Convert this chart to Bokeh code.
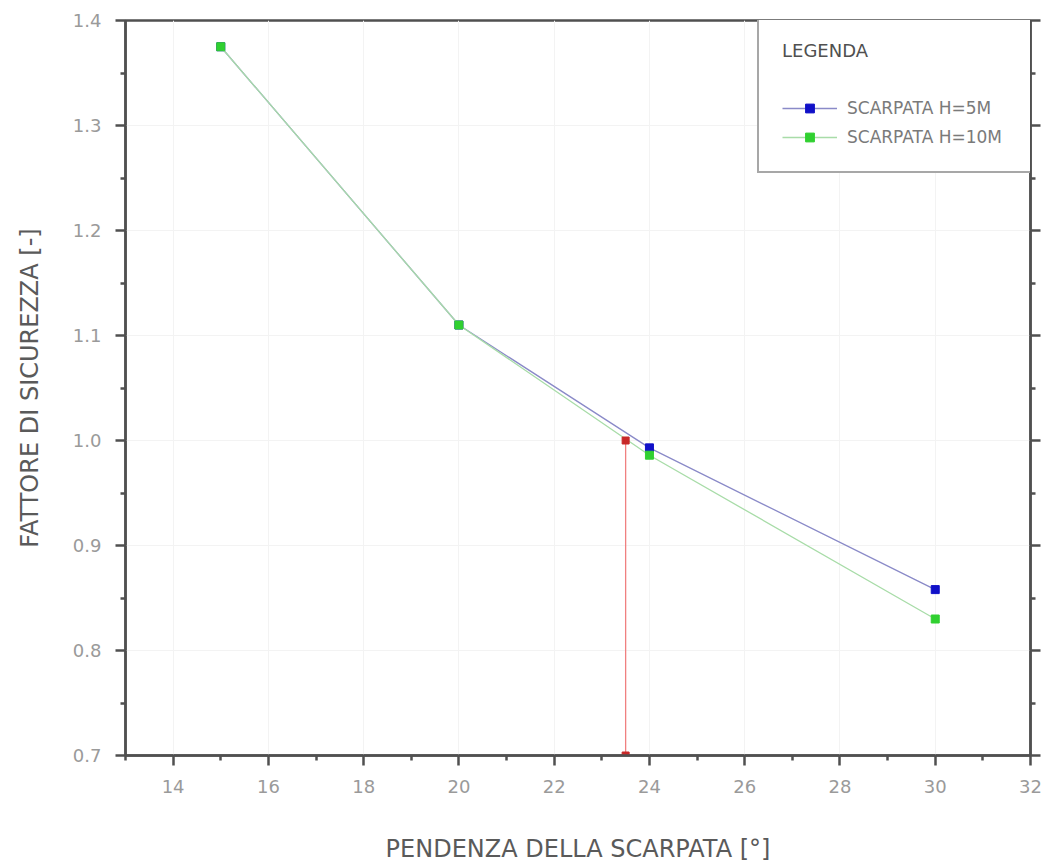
from bokeh.plotting import figure
from bokeh.models import (Range1d, LinearAxis, FixedTicker, PrintfTickFormatter,
                          CustomJSTickFormatter, Legend, LegendItem)
from bokeh.embed import file_html
from bokeh.resources import INLINE

# ---- data ----
pendenza = [15, 20, 24, 30]
fs_h5 = [1.375, 1.11, 0.993, 0.858]
fs_h10 = [1.375, 1.11, 0.986, 0.83]
limite_x = [23.5, 23.5]
limite_y = [1.0, 0.7]

x_major = [14, 16, 18, 20, 22, 24, 26, 28, 30, 32]
x_minor = [13, 15, 17, 19, 21, 23, 25, 27, 29, 31]
y_major = [0.7, 0.8, 0.9, 1.0, 1.1, 1.2, 1.3, 1.4]
y_minor = [0.75, 0.85, 0.95, 1.05, 1.15, 1.25, 1.35]

AX = "#505050"
TICKLAB = "#9a9a9a"
TITLE = "#5a5a5a"
FONT = "DejaVu Sans"

p = figure(width=1048, height=865, output_backend="svg", toolbar_location=None,
           x_range=Range1d(13, 32), y_range=Range1d(0.7, 1.4),
           min_border_left=125, min_border_right=18, min_border_top=20, min_border_bottom=110,
           x_axis_label="PENDENZA DELLA SCARPATA [°]",
           y_axis_label="FATTORE DI SICUREZZA [-]")
p.background_fill_color = "white"
p.border_fill_color = "white"
p.outline_line_color = AX
p.outline_line_width = 2.5

p.xaxis.ticker = FixedTicker(ticks=x_major, minor_ticks=x_minor)
p.yaxis.ticker = FixedTicker(ticks=y_major, minor_ticks=y_minor)
p.yaxis.formatter = PrintfTickFormatter(format="%.1f")

right = LinearAxis(ticker=FixedTicker(ticks=y_major, minor_ticks=y_minor),
                   formatter=CustomJSTickFormatter(code="return '';"))
p.add_layout(right, "right")

for ax in [p.xaxis[0], p.yaxis[0], right]:
    ax.axis_line_color = AX
    ax.axis_line_width = 2.5
    ax.major_tick_line_color = AX
    ax.minor_tick_line_color = AX
    ax.major_tick_line_width = 2.5
    ax.minor_tick_line_width = 2.5
    ax.major_tick_in = 0
    ax.minor_tick_in = 0
    ax.major_tick_out = 10
    ax.minor_tick_out = 5
    ax.major_label_text_font = FONT
    ax.major_label_text_font_size = "18px"
    ax.axis_label_text_font = FONT
    ax.axis_label_text_font_style = "normal"
    ax.axis_label_text_font_size = "24px"
    ax.axis_label_text_color = TITLE

right.major_label_standoff = 0

p.xaxis.major_label_text_color = TICKLAB
p.yaxis.major_label_text_color = TICKLAB
p.xaxis.major_label_standoff = 14
p.yaxis.major_label_standoff = 14
p.xaxis.axis_label_standoff = 39
p.yaxis.axis_label_standoff = 26

p.xgrid.grid_line_color = "#f3f3f3"
p.ygrid.grid_line_color = "#f3f3f3"
p.xgrid.ticker = FixedTicker(ticks=x_major)
p.ygrid.ticker = FixedTicker(ticks=y_major)

l5 = p.line(pendenza, fs_h5, line_color="#8a8ac8", line_width=1.3)
s5 = p.scatter(pendenza, fs_h5, marker="square", size=8, fill_color="#1010c8", line_color="#1010c8")
l10 = p.line(pendenza, fs_h10, line_color="#a8dca8", line_width=1.3)
s10 = p.scatter(pendenza, fs_h10, marker="square", size=8, fill_color="#30d030", line_color="#30d030")

p.line(limite_x, limite_y, line_color="#f08080", line_width=1.3)
p.scatter(limite_x, limite_y, marker="square", size=7, fill_color="#c82828", line_color="#c82828")

legend = Legend(items=[LegendItem(label="SCARPATA H=5M", renderers=[l5, s5]),
                       LegendItem(label="SCARPATA H=10M", renderers=[l10, s10])],
                location=(632, 582), title="LEGENDA")
legend.title_text_font = FONT
legend.title_text_font_size = "18px"
legend.title_text_font_style = "normal"
legend.title_text_color = "#505050"
legend.title_standoff = 36
legend.label_text_font = FONT
legend.label_text_font_size = "17px"
legend.label_text_color = "#7a7a7a"
legend.padding = 23
legend.margin = 0
legend.spacing = 7
legend.glyph_width = 55
legend.glyph_height = 22
legend.label_height = 22
legend.label_standoff = 10
legend.label_width = 160
legend.border_line_color = AX
legend.border_line_width = 2
legend.background_fill_color = "white"
legend.background_fill_alpha = 1.0
p.add_layout(legend, "center")

open("out.html", "w").write(file_html(p, INLINE))
